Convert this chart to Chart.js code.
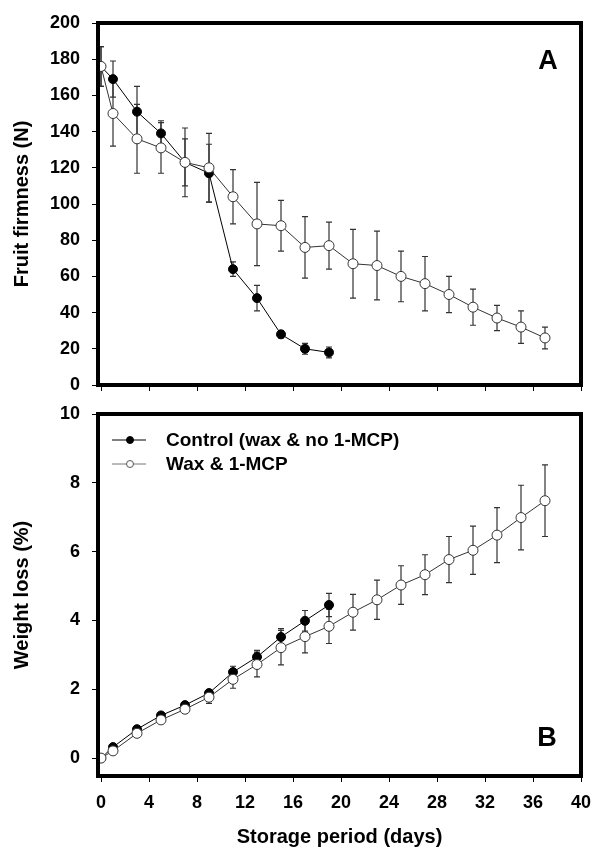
<!DOCTYPE html>
<html>
<head>
<meta charset="utf-8">
<script src="https://cdn.jsdelivr.net/npm/chart.js@4.4.1/dist/chart.umd.min.js"></script>
<style>
html, body { margin: 0; padding: 0; background: #fff; }
#wrap { position: relative; width: 593px; height: 851px; }
#cajaA { position: absolute; left: 0; top: 0; width: 593px; height: 400px; }
#cajaB { position: absolute; left: 0; top: 400px; width: 593px; height: 451px; }
</style>
</head>
<body>
<div id="wrap">
  <div id="cajaA"><canvas id="graficaA"></canvas></div>
  <div id="cajaB"><canvas id="graficaB"></canvas></div>
</div>
<script>
// dias de almacenamiento
const diasControl = [0, 1, 3, 5, 7, 9, 11, 13, 15, 17, 19];
const diasCera = [0, 1, 3, 5, 7, 9, 11, 13, 15, 17, 19, 21, 23, 25, 27, 29, 31, 33, 35, 37];

// A - firmeza (N)
const firmezaControl = [176, 169, 151, 139, 123, 117, 64, 48, 28, 20, 18];
const errFirmezaControl = [11, 10, 14, 7, 13, 16, 4, 7, 2, 3, 3];
const firmezaCera = [176, 150, 136, 131, 123, 120, 104, 89, 88, 76, 77, 67, 66, 60, 56, 50, 43, 37, 32, 26];
const errFirmezaCera = [11, 18, 19, 14, 19, 19, 15, 23, 14, 17, 13, 19, 19, 14, 15, 10, 10, 7, 9, 6];

// B - perdida de peso (%)
const perdidaControl = [0, 0.32, 0.84, 1.24, 1.54, 1.89, 2.5, 2.94, 3.52, 3.99, 4.45];
const errPerdidaControl = [0.03, 0.08, 0.08, 0.08, 0.08, 0.1, 0.17, 0.19, 0.24, 0.3, 0.34];
const perdidaCera = [0, 0.21, 0.72, 1.11, 1.42, 1.77, 2.29, 2.72, 3.21, 3.53, 3.83, 4.24, 4.6, 5.03, 5.33, 5.77, 6.04, 6.48, 6.99, 7.48];
const errPerdidaCera = [0.03, 0.08, 0.08, 0.1, 0.12, 0.18, 0.26, 0.36, 0.5, 0.47, 0.5, 0.52, 0.57, 0.56, 0.58, 0.67, 0.7, 0.8, 0.94, 1.04];

const ticksX = [0, 4, 8, 12, 16, 20, 24, 28, 32, 36, 40];
const ticksFirmeza = [0, 20, 40, 60, 80, 100, 120, 140, 160, 180, 200];
const ticksPerdida = [0, 2, 4, 6, 8, 10];

const nombreControl = 'Control (wax & no 1-MCP)';
const nombreCera = 'Wax & 1-MCP';

const FUENTE = '"Liberation Sans", Arial, sans-serif';

function puntos(xs, ys) {
    return xs.map((x, i) => ({ x: x, y: ys[i] }));
}

// barras de error, dibujadas con las escalas de la grafica
const barrasError = {
    id: 'barrasError',
    beforeDatasetsDraw(chart) {
        const ctx = chart.ctx;
        const sx = chart.scales.x, sy = chart.scales.y;
        ctx.save();
        chart.data.datasets.forEach(ds => {
            if (!ds.errores) return;
            ctx.strokeStyle = '#333';
            ctx.lineWidth = 1.2;
            ds.data.forEach((p, i) => {
                const e = ds.errores[i];
                const px = sx.getPixelForValue(p.x);
                const y1 = sy.getPixelForValue(p.y + e);
                const y2 = sy.getPixelForValue(p.y - e);
                ctx.beginPath();
                ctx.moveTo(px, y1); ctx.lineTo(px, y2);
                ctx.moveTo(px - 3, y1); ctx.lineTo(px + 3, y1);
                ctx.moveTo(px - 3, y2); ctx.lineTo(px + 3, y2);
                ctx.stroke();
            });
        });
        ctx.restore();
    }
};

// marco grueso y letra del panel
const marco = {
    id: 'marco',
    afterDraw(chart, args, opts) {
        const { ctx, chartArea: a } = chart;
        ctx.save();
        ctx.strokeStyle = '#000';
        ctx.lineWidth = 4;
        ctx.strokeRect(a.left, a.top, a.right - a.left, a.bottom - a.top);
        ctx.fillStyle = '#000';
        ctx.font = 'bold 27px ' + FUENTE;
        ctx.textAlign = 'center';
        ctx.textBaseline = 'middle';
        ctx.fillText(opts.letra, opts.lx, opts.ly);
        ctx.restore();
    }
};

// leyenda dentro del panel B
const leyenda = {
    id: 'leyenda',
    afterDraw(chart) {
        if (chart.canvas.id !== 'graficaB') return;
        const ctx = chart.ctx;
        const filas = [
            { texto: nombreControl, y: 40, relleno: '#000', linea: '#000', r: 3.5 },
            { texto: nombreCera, y: 64, relleno: '#fff', linea: '#777', r: 3.5 }
        ];
        ctx.save();
        filas.forEach(f => {
            ctx.strokeStyle = f.linea;
            ctx.lineWidth = 1;
            ctx.beginPath();
            ctx.moveTo(112, f.y); ctx.lineTo(146, f.y);
            ctx.stroke();
            ctx.beginPath();
            ctx.arc(130, f.y, f.r, 0, Math.PI * 2);
            ctx.fillStyle = f.relleno;
            ctx.fill();
            ctx.strokeStyle = f.linea === '#000' ? '#000' : '#555';
            ctx.stroke();
            ctx.fillStyle = '#000';
            ctx.font = 'bold 19px ' + FUENTE;
            ctx.textAlign = 'left';
            ctx.textBaseline = 'middle';
            ctx.fillText(f.texto, 166, f.y + 1);
        });
        ctx.restore();
    }
};

function serieControl(ys, errs) {
    return {
        label: nombreControl,
        data: puntos(diasControl, ys),
        errores: errs,
        borderColor: '#000',
        borderWidth: 1,
        backgroundColor: '#000',
        pointBackgroundColor: '#000',
        pointBorderColor: '#000',
        pointRadius: 4.5,
        tension: 0
    };
}

function serieCera(ys, errs) {
    return {
        label: nombreCera,
        data: puntos(diasCera, ys),
        errores: errs,
        borderColor: '#333',
        borderWidth: 1,
        backgroundColor: '#fff',
        pointBackgroundColor: '#fff',
        pointBorderColor: '#333',
        pointBorderWidth: 1,
        pointRadius: 5,
        tension: 0
    };
}

function ejeX(conEtiquetas) {
    return {
        type: 'linear',
        min: -0.25,
        max: 40,
        afterBuildTicks: s => { s.ticks = ticksX.map(v => ({ value: v })); },
        afterFit: s => {
            s.height = conEtiquetas ? 75 : 0;
            s.paddingLeft = 0; s.paddingRight = 0;
        },
        grid: { drawOnChartArea: false, drawTicks: true, tickLength: 6, color: '#000' },
        border: { display: false },
        ticks: {
            display: conEtiquetas,
            color: '#000',
            font: { family: FUENTE, size: 18, weight: 'bold' },
            padding: 10,
            maxRotation: 0
        },
        title: {
            display: conEtiquetas,
            text: 'Storage period (days)',
            color: '#000',
            font: { family: FUENTE, size: 20, weight: 'bold' },
            padding: { top: 0, bottom: 2 }
        }
    };
}

function ejeY(min, max, ticks, titulo) {
    return {
        type: 'linear',
        min: min,
        max: max,
        afterBuildTicks: s => { s.ticks = ticks.map(v => ({ value: v })); },
        afterFit: s => {
            s.width = 98;
            s.paddingTop = 0; s.paddingBottom = 0;
        },
        grid: { drawOnChartArea: false, drawTicks: true, tickLength: 6, color: '#000' },
        border: { display: false },
        ticks: {
            color: '#000',
            font: { family: FUENTE, size: 18, weight: 'bold' },
            padding: 12
        },
        title: {
            display: true,
            text: titulo,
            color: '#000',
            font: { family: FUENTE, size: 20, weight: 'bold' },
            padding: { top: 10, bottom: 0 }
        }
    };
}

Chart.register(barrasError, marco, leyenda);

const graficaA = new Chart(document.getElementById('graficaA'), {
    type: 'line',
    data: {
        datasets: [serieCera(firmezaCera, errFirmezaCera), serieControl(firmezaControl, errFirmezaControl)]
    },
    options: {
        responsive: true,
        maintainAspectRatio: false,
        animation: false,
        layout: { padding: { top: 23, right: 12, bottom: 15, left: 0 } },
        scales: {
            x: ejeX(false),
            y: ejeY(0, 200, ticksFirmeza, 'Fruit firmness (N)')
        },
        plugins: {
            legend: { display: false },
            tooltip: { enabled: false },
            marco: { letra: 'A', lx: 548, ly: 62 }
        }
    }
});

const graficaB = new Chart(document.getElementById('graficaB'), {
    type: 'line',
    data: {
        datasets: [serieCera(perdidaCera, errPerdidaCera), serieControl(perdidaControl, errPerdidaControl)]
    },
    options: {
        responsive: true,
        maintainAspectRatio: false,
        animation: false,
        layout: { padding: { top: 14, right: 12, bottom: 0, left: 0 } },
        scales: {
            x: ejeX(true),
            y: ejeY(-0.52, 10, ticksPerdida, 'Weight loss (%)')
        },
        plugins: {
            legend: { display: false },
            tooltip: { enabled: false },
            marco: { letra: 'B', lx: 547, ly: 339 }
        }
    }
});
</script>
</body>
</html>
